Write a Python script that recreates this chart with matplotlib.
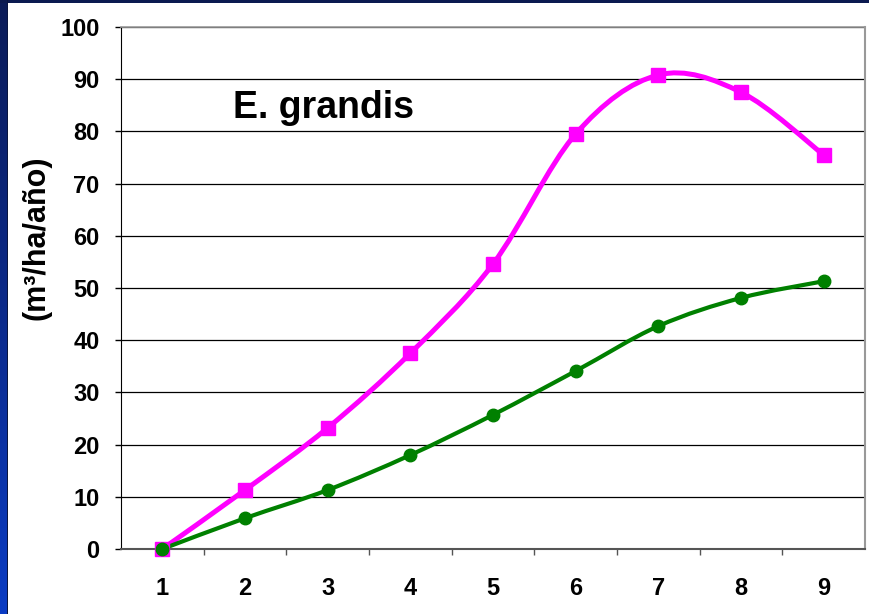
import numpy as np
import matplotlib
matplotlib.use("Agg")
import matplotlib.pyplot as plt
from matplotlib.path import Path
from matplotlib.patches import PathPatch, Rectangle
from matplotlib.colors import LinearSegmentedColormap

# ─── Data ─────────────────────────────────────────────────────────────────────
categories = ["1", "2", "3", "4", "5", "6", "7", "8", "9"]
pink_vals  = [0.0, 11.3, 23.2, 37.5, 54.6, 79.5, 90.8, 87.5, 75.5]
green_vals = [0.0, 5.9, 11.3, 18.0, 25.7, 34.1, 42.7, 48.1, 51.3]

PINK  = "#FF00FF"
GREEN = "#008000"

plt.rcParams["font.family"] = ["Liberation Sans", "DejaVu Sans"]
plt.rcParams["font.weight"] = "bold"


def smooth_path(xs, ys):
    # Excel-style smoothed line: cubic Bezier segments through every point
    pts = np.column_stack([xs, ys])
    n = len(pts)
    verts = [pts[0]]
    codes = [Path.MOVETO]
    for i in range(n - 1):
        p0 = pts[i - 1] if i > 0 else pts[i]
        p1, p2 = pts[i], pts[i + 1]
        p3 = pts[i + 2] if i + 2 < n else pts[i + 1]
        c1 = p1 + (p2 - p0) / 6.0
        c2 = p2 - (p3 - p1) / 6.0
        verts += [c1, c2, p2]
        codes += [Path.CURVE4] * 3
    return Path(verts, codes)


fig = plt.figure(figsize=(8.7, 6.14), dpi=100, facecolor="white")

# slide border strips
grad_ax = fig.add_axes([0, 0, 7 / 870, 1])
grad = np.linspace(0, 1, 256).reshape(-1, 1)
cmap = LinearSegmentedColormap.from_list("slide", ["#0a3cc4", "#0c2a8a", "#0b1c58"])
grad_ax.imshow(grad, aspect="auto", cmap=cmap, origin="lower", extent=[0, 1, 0, 1])
grad_ax.axis("off")
fig.patches.append(Rectangle((0, 1 - 3 / 614), 1, 3 / 614, transform=fig.transFigure,
                             facecolor="#0b1a50", edgecolor="none", zorder=5))
fig.patches.append(Rectangle((7 / 870, 0), 1.5 / 870, 1, transform=fig.transFigure,
                             facecolor="#0a1640", edgecolor="none", zorder=5))

ax = fig.add_axes([121 / 870, 1 - 549 / 614, 744 / 870, 522 / 614])
x = np.arange(1, len(categories) + 1)

for vals, col, lw, mk, ms in [(pink_vals, PINK, 3.6, "s", 10),
                              (green_vals, GREEN, 3.0, "o", 9)]:
    ax.add_patch(PathPatch(smooth_path(x, vals), facecolor="none", edgecolor=col,
                           lw=lw, capstyle="round", joinstyle="round", zorder=3))
    ax.plot(x, vals, linestyle="none", marker=mk, markersize=ms, color=col,
            markeredgecolor=col, zorder=4, clip_on=False)

ax.set_xlim(0.5, len(categories) + 0.5)
ax.set_ylim(0, 100)
ax.set_yticks(np.arange(0, 101, 10))
ax.set_xticks(x)
ax.set_xticklabels(categories)
ax.set_xticks(np.arange(1.5, len(categories) + 0.5, 1), minor=True)

ax.yaxis.grid(True, color="black", lw=0.9)
ax.set_axisbelow(True)
ax.tick_params(axis="x", which="major", length=0, pad=20, labelsize=17)
ax.tick_params(axis="x", which="minor", length=4, width=1, color="#555555", direction="out")
ax.tick_params(axis="y", length=4.5, width=1, direction="out", pad=11, labelsize=17)

ax.spines["left"].set_color("black")
ax.spines["bottom"].set_color("#555555")
ax.spines["bottom"].set_linewidth(1.5)
ax.spines["top"].set_color("#999999")
ax.spines["right"].set_color("#999999")
ax.spines["top"].set_linewidth(1.2)
ax.spines["right"].set_linewidth(1.5)

ax.set_ylabel("(m³/ha/año)", fontsize=22, fontweight="bold")
ax.yaxis.set_label_coords(-0.113, 0.596)
ax.yaxis.label.set_va("center")
ax.text(1.86, 82.6, "E. grandis", fontsize=27, fontweight="bold", ha="left", va="baseline")

fig.savefig("out.png", dpi=100, facecolor="white")
